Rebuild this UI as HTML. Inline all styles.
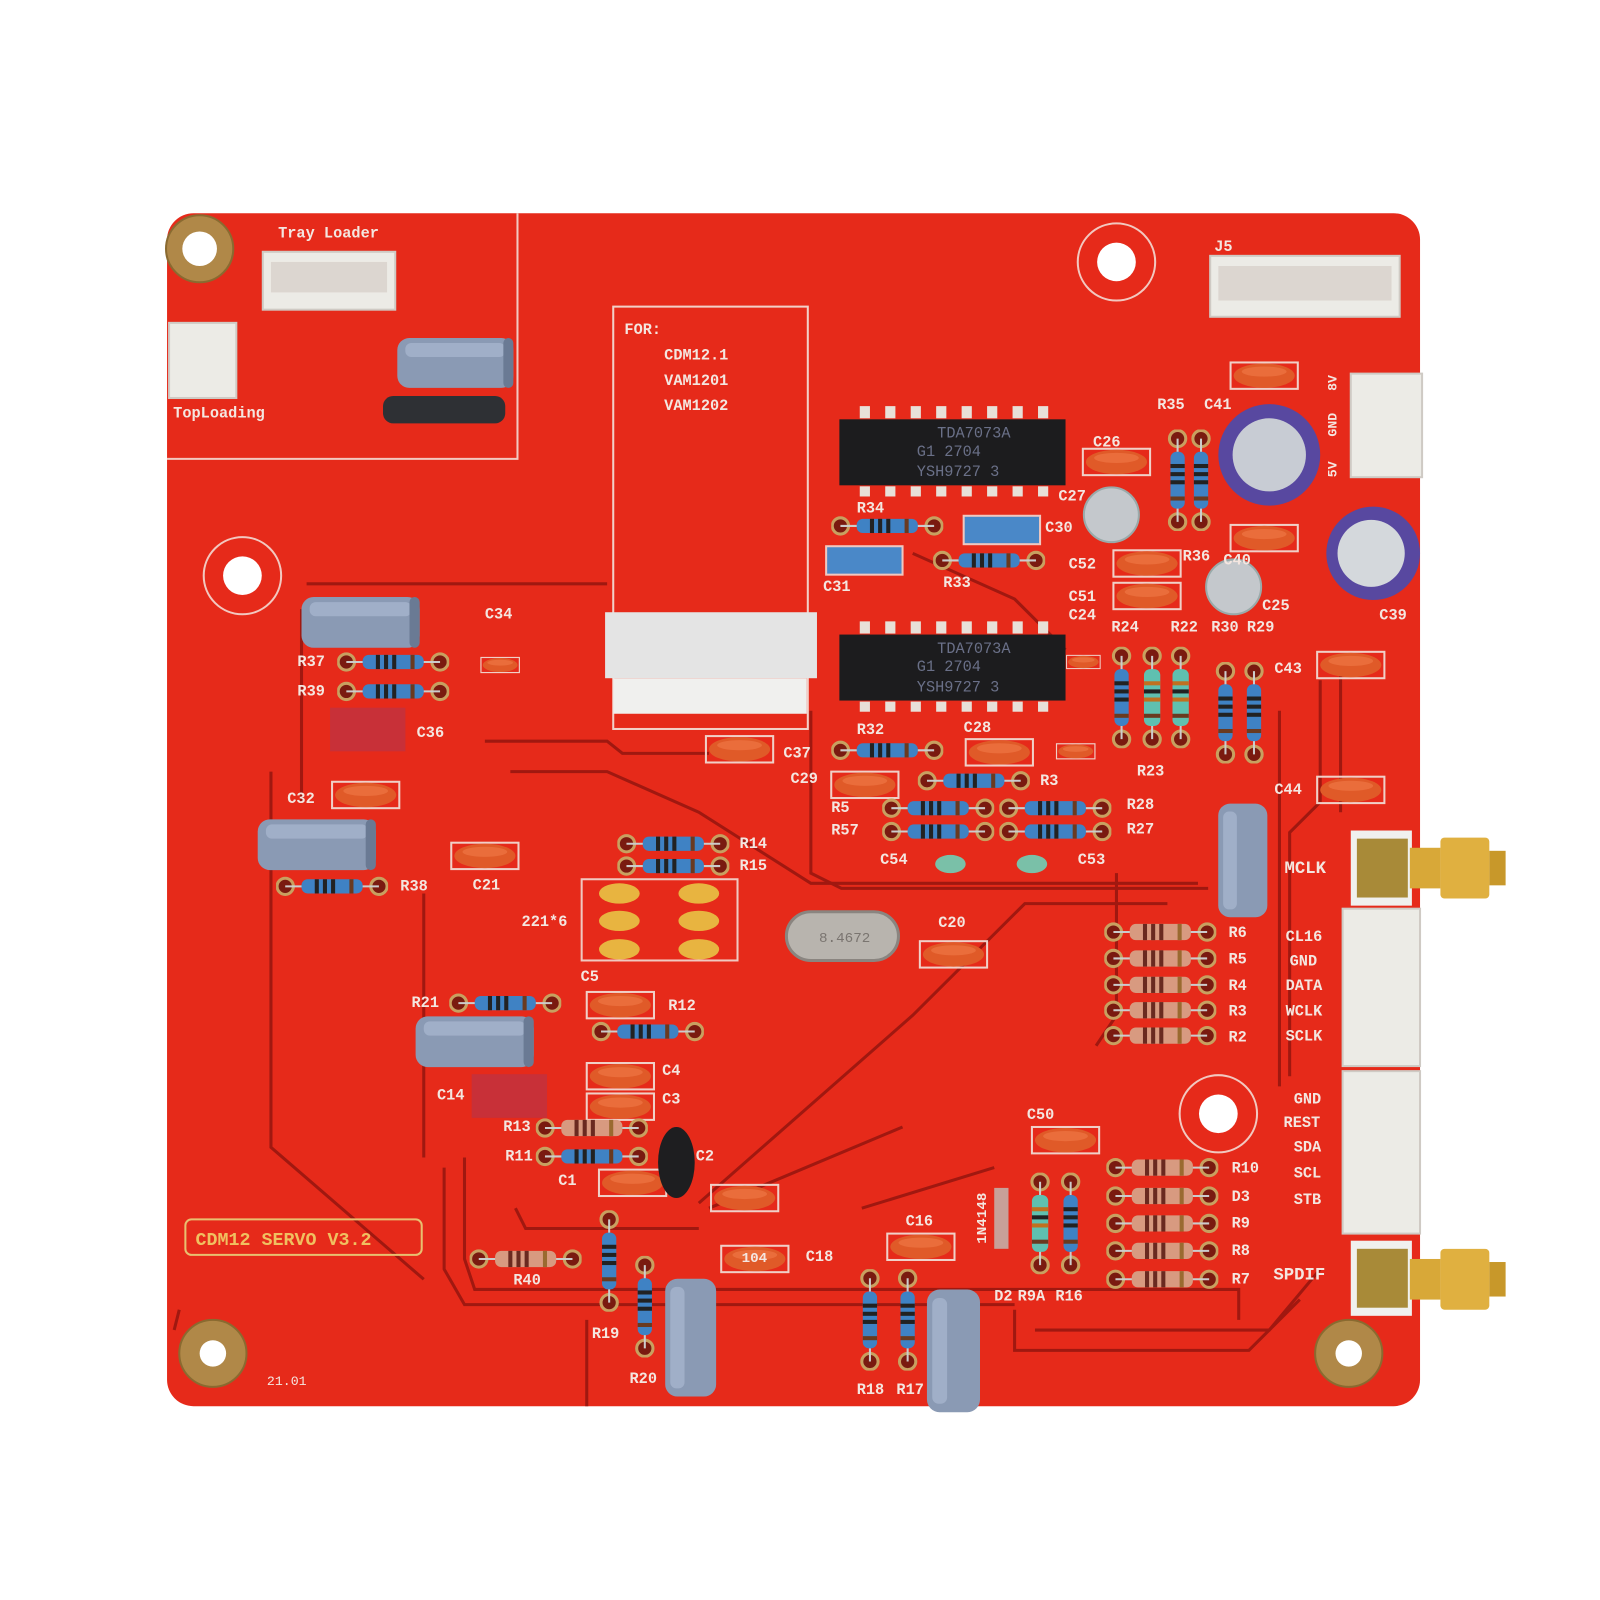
<!DOCTYPE html>
<html><head><meta charset="utf-8"><style>
html,body{margin:0;padding:0;background:#fff}
svg{display:block}
text{font-family:"Liberation Mono",monospace;fill:#f4e6e0;font-size:15px;font-weight:bold}
</style></head><body>
<svg width="1600" height="1600" viewBox="0 0 1600 1600" xmlns="http://www.w3.org/2000/svg">
<defs>
<symbol id="rb" viewBox="0 0 110 20" width="110" height="20">
<circle cx="9" cy="10" r="8" fill="#7a1a10" stroke="#c8a060" stroke-width="3"/>
<circle cx="101" cy="10" r="8" fill="#7a1a10" stroke="#c8a060" stroke-width="3"/>
<line x1="9" y1="10" x2="101" y2="10" stroke="#ccc" stroke-width="2"/>
<rect x="25" y="3" width="60" height="14" rx="6" fill="#3f82c4"/>
<rect x="38" y="3" width="4" height="14" fill="#222"/><rect x="46" y="3" width="4" height="14" fill="#222"/><rect x="54" y="3" width="4" height="14" fill="#222"/><rect x="72" y="3" width="4" height="14" fill="#6a3a20"/>
</symbol>
<symbol id="rt" viewBox="0 0 110 20" width="110" height="20">
<circle cx="9" cy="10" r="8" fill="#7a1a10" stroke="#c8a060" stroke-width="3"/>
<circle cx="101" cy="10" r="8" fill="#7a1a10" stroke="#c8a060" stroke-width="3"/>
<line x1="9" y1="10" x2="101" y2="10" stroke="#ccc" stroke-width="2"/>
<rect x="25" y="2" width="60" height="16" rx="6" fill="#d89a80"/>
<rect x="38" y="2" width="4" height="16" fill="#6a2a20"/><rect x="46" y="2" width="4" height="16" fill="#6a2a20"/><rect x="54" y="2" width="4" height="16" fill="#6a2a20"/><rect x="72" y="2" width="4" height="16" fill="#9a6a30"/>
</symbol>
<symbol id="rv" viewBox="0 0 20 100" width="20" height="100">
<circle cx="10" cy="9" r="8" fill="#7a1a10" stroke="#c8a060" stroke-width="3"/>
<circle cx="10" cy="91" r="8" fill="#7a1a10" stroke="#c8a060" stroke-width="3"/>
<line x1="10" y1="9" x2="10" y2="91" stroke="#ccc" stroke-width="2"/>
<rect x="3" y="22" width="14" height="56" rx="6" fill="#3f82c4"/>
<rect x="3" y="34" width="14" height="4" fill="#222"/><rect x="3" y="42" width="14" height="4" fill="#222"/><rect x="3" y="50" width="14" height="4" fill="#222"/><rect x="3" y="66" width="14" height="4" fill="#6a3a20"/>
</symbol>
<symbol id="rg" viewBox="0 0 20 100" width="20" height="100">
<circle cx="10" cy="9" r="8" fill="#7a1a10" stroke="#c8a060" stroke-width="3"/>
<circle cx="10" cy="91" r="8" fill="#7a1a10" stroke="#c8a060" stroke-width="3"/>
<line x1="10" y1="9" x2="10" y2="91" stroke="#ccc" stroke-width="2"/>
<rect x="2" y="22" width="16" height="56" rx="6" fill="#5fc0b0"/>
<rect x="2" y="34" width="16" height="4" fill="#c07020"/><rect x="2" y="42" width="16" height="4" fill="#222"/><rect x="2" y="50" width="16" height="4" fill="#c07020"/><rect x="2" y="66" width="16" height="4" fill="#6a3a20"/>
</symbol>
<symbol id="co" viewBox="0 0 70 30" width="70" height="30">
<rect x="2" y="2" width="66" height="26" fill="none" stroke="#f0d0c8" stroke-width="2"/>
<ellipse cx="35" cy="15" rx="30" ry="12" fill="#e05a28"/>
<ellipse cx="35" cy="11" rx="22" ry="5" fill="#f07a48" opacity=".6"/>
</symbol>
<symbol id="cyl" viewBox="0 0 120 56" width="120" height="56">
<rect x="2" y="3" width="116" height="50" rx="12" fill="#8a9ab4"/>
<rect x="10" y="8" width="100" height="14" rx="6" fill="#aab8d0" opacity=".7"/>
<rect x="108" y="3" width="10" height="50" rx="5" fill="#6a7a94"/>
</symbol>
<symbol id="cylv" viewBox="0 0 56 120" width="56" height="120">
<rect x="3" y="2" width="50" height="116" rx="12" fill="#8a9ab4"/>
<rect x="8" y="10" width="14" height="100" rx="6" fill="#aab8d0" opacity=".7"/>
</symbol>
</defs>

<rect width="1600" height="1600" fill="#fff"/>
<g transform="matrix(1.0187 0 0 1.0153 -4.1 0)">
<!-- board -->
<rect x="168" y="210" width="1230" height="1175" rx="26" fill="#e62a1a"/>
<!-- outlines -->
<path d="M168 452 H512 V210" fill="none" stroke="#f2c8c0" stroke-width="2"/>
<rect x="606" y="302" width="191" height="416" fill="none" stroke="#f2d0c8" stroke-width="2"/>
<!-- traces -->
<g fill="none" stroke="#a01810" stroke-width="3">
<path d="M305 575 H600"/><path d="M270 760 V1130 L420 1260"/><path d="M300 600 V790"/>
<path d="M480 730 H600 L615 742 H700"/><path d="M460 1140 V1240 L470 1270 H1220 V1300"/>
<path d="M440 1150 V1250 L460 1285 H1000"/><path d="M420 880 L420 1140"/>
<path d="M505 760 H600 L690 800 L800 870 H1180"/><path d="M800 700 V860 L830 875 H1190"/>
<path d="M690 1185 L900 1000 L1010 890 H1150"/><path d="M580 1300 V1385"/>
<path d="M1000 1290 V1330 H1230 L1280 1280"/><path d="M1020 1310 H1250 L1300 1250"/>
<path d="M1100 860 L1100 1000 L1080 1030"/><path d="M1260 700 V1070"/>
<path d="M1300 670 V790 L1270 820 V1060"/><path d="M1320 660 V800"/>
<path d="M900 545 L1000 590 L1050 640"/>
<path d="M175 1310 L180 1290"/><path d="M890 1110 L700 1190"/>
<path d="M980 1150 L850 1190"/><path d="M510 1190 L520 1210 H690"/>
</g>
<!-- holes -->
<circle cx="200" cy="245" r="33" fill="#b08848" stroke="#8a6a30" stroke-width="2"/><circle cx="200" cy="245" r="17" fill="#fff"/>
<circle cx="213" cy="1333" r="33" fill="#b08848" stroke="#8a6a30" stroke-width="2"/><circle cx="213" cy="1333" r="13" fill="#fff"/>
<circle cx="1328" cy="1333" r="33" fill="#b08848" stroke="#8a6a30" stroke-width="2"/><circle cx="1328" cy="1333" r="13" fill="#fff"/>
<circle cx="1100" cy="258" r="38" fill="none" stroke="#f2c8c0" stroke-width="2"/><circle cx="1100" cy="258" r="19" fill="#fff"/>
<circle cx="242" cy="567" r="38" fill="none" stroke="#f2c8c0" stroke-width="2"/><circle cx="242" cy="567" r="19" fill="#fff"/>
<circle cx="1200" cy="1097" r="38" fill="none" stroke="#f2c8c0" stroke-width="2"/><circle cx="1200" cy="1097" r="19" fill="#fff"/>
<!-- connectors -->
<g fill="#ecebe6" stroke="#cfcac4" stroke-width="2">
<rect x="262" y="248" width="130" height="57"/>
<rect x="170" y="318" width="66" height="74"/>
<rect x="1192" y="252" width="186" height="60"/>
<rect x="1330" y="368" width="70" height="102"/>
<rect x="1322" y="895" width="76" height="155"/>
<rect x="1322" y="1055" width="76" height="160"/>
</g>
<rect x="270" y="258" width="114" height="30" fill="#dcd6d0"/>
<rect x="1200" y="262" width="170" height="34" fill="#dcd6d0"/>
<!-- ribbon -->
<rect x="598" y="603" width="208" height="65" fill="#e4e4e4"/>
<rect x="606" y="668" width="190" height="35" fill="#f0f0ee"/>
<!-- ICs -->
<g>
<rect x="828" y="413" width="222" height="65" fill="#1c1c1e"/>
<rect x="828" y="625" width="222" height="65" fill="#1c1c1e"/>
<g fill="#e8e0d8">
<rect x="848" y="400" width="10" height="12"/><rect x="873" y="400" width="10" height="12"/><rect x="898" y="400" width="10" height="12"/><rect x="923" y="400" width="10" height="12"/><rect x="948" y="400" width="10" height="12"/><rect x="973" y="400" width="10" height="12"/><rect x="998" y="400" width="10" height="12"/><rect x="1023" y="400" width="10" height="12"/>
<rect x="848" y="479" width="10" height="10"/><rect x="873" y="479" width="10" height="10"/><rect x="898" y="479" width="10" height="10"/><rect x="923" y="479" width="10" height="10"/><rect x="948" y="479" width="10" height="10"/><rect x="973" y="479" width="10" height="10"/><rect x="998" y="479" width="10" height="10"/><rect x="1023" y="479" width="10" height="10"/>
<rect x="848" y="612" width="10" height="12"/><rect x="873" y="612" width="10" height="12"/><rect x="898" y="612" width="10" height="12"/><rect x="923" y="612" width="10" height="12"/><rect x="948" y="612" width="10" height="12"/><rect x="973" y="612" width="10" height="12"/><rect x="998" y="612" width="10" height="12"/><rect x="1023" y="612" width="10" height="12"/>
<rect x="848" y="691" width="10" height="10"/><rect x="873" y="691" width="10" height="10"/><rect x="898" y="691" width="10" height="10"/><rect x="923" y="691" width="10" height="10"/><rect x="948" y="691" width="10" height="10"/><rect x="973" y="691" width="10" height="10"/><rect x="998" y="691" width="10" height="10"/><rect x="1023" y="691" width="10" height="10"/>
</g>
<text x="924" y="431" style="fill:#6a7088;font-weight:normal">TDA7073A</text><text x="904" y="449" style="fill:#6a7088;font-weight:normal">G1   2704</text><text x="904" y="469" style="fill:#6a7088;font-weight:normal">YSH9727 3</text>
<text x="924" y="643" style="fill:#6a7088;font-weight:normal">TDA7073A</text><text x="904" y="661" style="fill:#6a7088;font-weight:normal">G1   2704</text><text x="904" y="681" style="fill:#6a7088;font-weight:normal">YSH9727 3</text>
</g>
<!-- cylinders -->
<use href="#cyl" x="392" y="330" width="118" height="55"/>
<rect x="380" y="390" width="120" height="27" rx="10" fill="#2e3034"/>
<use href="#cyl" x="298" y="585" width="120" height="56"/>
<use href="#cyl" x="255" y="804" width="120" height="56"/>
<use href="#cyl" x="410" y="998" width="120" height="56"/>
<use href="#cylv" x="1197" y="785" width="54" height="125"/>
<use href="#cylv" x="654" y="1255" width="56" height="125"/>
<use href="#cylv" x="910" y="1268" width="60" height="125"/>
<!-- electrolytics -->
<circle cx="1250" cy="448" r="50" fill="#5848a0"/><circle cx="1250" cy="448" r="36" fill="#c8ccd4"/>
<circle cx="1352" cy="545" r="46" fill="#5848a0"/><circle cx="1350" cy="545" r="33" fill="#d4d8dc"/>
<circle cx="1095" cy="507" r="27" fill="#c4c8cc" stroke="#9aa" stroke-width="2"/>
<circle cx="1215" cy="578" r="27" fill="#c4c8cc" stroke="#9aa" stroke-width="2"/>
<!-- blue box caps -->
<rect x="815" y="538" width="75" height="28" fill="#4a88c8" stroke="#f0c8c0" stroke-width="2"/>
<rect x="950" y="508" width="75" height="28" fill="#4a88c8" stroke="#f0c8c0" stroke-width="2"/>
<!-- red box caps -->
<rect x="328" y="697" width="74" height="43" fill="#c83038"/>
<rect x="467" y="1058" width="74" height="43" fill="#c83038"/>
<!-- crystal -->
<rect x="776" y="898" width="110" height="48" rx="24" fill="#b8b4ae" stroke="#8a8580" stroke-width="3"/>
<text x="808" y="928" style="fill:#7a7570;font-size:14px;font-weight:normal">8.4672</text>
<!-- yellow ceramics -->
<rect x="575" y="866" width="153" height="80" fill="none" stroke="#f0c8c0" stroke-width="2"/>
<g fill="#e8b440">
<ellipse cx="612" cy="880" rx="20" ry="10"/><ellipse cx="612" cy="907" rx="20" ry="10"/><ellipse cx="612" cy="935" rx="20" ry="10"/>
<ellipse cx="690" cy="880" rx="20" ry="10"/><ellipse cx="690" cy="907" rx="20" ry="10"/><ellipse cx="690" cy="935" rx="20" ry="10"/>
</g>
<!-- orange caps -->
<use href="#co" x="1210" y="355"/><use href="#co" x="1065" y="440"/><use href="#co" x="1210" y="515"/>
<use href="#co" x="1095" y="540"/><use href="#co" x="1095" y="572"/><use href="#co" x="1295" y="640"/>
<use href="#co" x="1295" y="763"/><use href="#co" x="475" y="620" width="40" height="70"/>
<use href="#co" x="1050" y="617" width="35" height="70"/>
<use href="#co" x="328" y="768"/><use href="#co" x="445" y="828"/><use href="#co" x="695" y="723"/>
<use href="#co" x="950" y="726"/><use href="#co" x="818" y="758"/><use href="#co" x="1040" y="710" width="40" height="60"/>
<use href="#co" x="905" y="925"/><use href="#co" x="578" y="975"/><use href="#co" x="578" y="1045"/>
<use href="#co" x="578" y="1075"/><use href="#co" x="590" y="1150"/><use href="#co" x="700" y="1165"/>
<use href="#co" x="873" y="1213"/><use href="#co" x="1015" y="1108"/><use href="#co" x="710" y="1225"/>
<ellipse cx="668" cy="1145" rx="18" ry="35" fill="#1e1e20"/>
<!-- green small -->
<ellipse cx="937" cy="851" rx="15" ry="9" fill="#7ac0a8"/><ellipse cx="1017" cy="851" rx="15" ry="9" fill="#7ac0a8"/>
<!-- resistors -->
<use href="#rb" x="820" y="508"/><use href="#rb" x="920" y="542"/><use href="#rb" x="335" y="642"/><use href="#rb" x="335" y="671"/>
<use href="#rb" x="275" y="863"/><use href="#rb" x="610" y="821"/><use href="#rb" x="610" y="843"/><use href="#rb" x="445" y="978"/>
<use href="#rb" x="585" y="1006"/><use href="#rb" x="820" y="729"/><use href="#rb" x="905" y="759"/><use href="#rb" x="870" y="786"/>
<use href="#rb" x="870" y="809"/><use href="#rb" x="985" y="786"/><use href="#rb" x="985" y="809"/><use href="#rb" x="530" y="1129"/>
<use href="#rt" x="1088" y="908"/><use href="#rt" x="1088" y="934"/><use href="#rt" x="1088" y="960"/><use href="#rt" x="1088" y="985"/><use href="#rt" x="1088" y="1010"/>
<use href="#rt" x="1090" y="1140"/><use href="#rt" x="1090" y="1168"/><use href="#rt" x="1090" y="1195"/><use href="#rt" x="1090" y="1222"/><use href="#rt" x="1090" y="1250"/>
<use href="#rt" x="465" y="1230"/><use href="#rt" x="530" y="1101"/>
<use href="#rv" x="1150" y="423"/><use href="#rv" x="1173" y="423"/><use href="#rv" x="1095" y="637"/>
<use href="#rg" x="1125" y="637"/><use href="#rg" x="1153" y="637"/><use href="#rv" x="1197" y="652"/><use href="#rv" x="1225" y="652"/>
<use href="#rv" x="592" y="1192"/><use href="#rv" x="627" y="1237"/><use href="#rv" x="848" y="1250"/><use href="#rv" x="885" y="1250"/>
<use href="#rg" x="1015" y="1155"/><use href="#rv" x="1045" y="1155"/>
<rect x="980" y="1170" width="14" height="60" fill="#c8a098"/>
<!-- SMA -->
<g>
<rect x="1330" y="818" width="60" height="74" fill="#f0f0ee"/>
<rect x="1336" y="826" width="50" height="58" fill="#a88a38"/>
<rect x="1388" y="835" width="30" height="40" fill="#d8a838"/>
<rect x="1418" y="825" width="48" height="60" rx="4" fill="#e0b040"/>
<rect x="1466" y="838" width="16" height="34" fill="#c8982a"/>
<rect x="1330" y="1222" width="60" height="74" fill="#f0f0ee"/>
<rect x="1336" y="1230" width="50" height="58" fill="#a88a38"/>
<rect x="1388" y="1240" width="30" height="40" fill="#d8a838"/>
<rect x="1418" y="1230" width="48" height="60" rx="4" fill="#e0b040"/>
<rect x="1466" y="1243" width="16" height="34" fill="#c8982a"/>
</g>
<!-- CDM label -->
<rect x="186" y="1201" width="232" height="35" rx="6" fill="none" stroke="#e8c070" stroke-width="2"/>
<text x="196" y="1226" style="fill:#f0c060;font-size:18px">CDM12 SERVO V3.2</text>
<!-- labels -->
<text x="277" y="234">Tray Loader</text><text x="174" y="411">TopLoading</text>
<text x="617" y="329">FOR:</text><text x="656" y="354">CDM12.1</text><text x="656" y="379">VAM1201</text><text x="656" y="404">VAM1202</text>
<text x="1196" y="247">J5</text><text x="1140" y="403">R35</text><text x="1186" y="403">C41</text>
<text x="1077" y="440">C26</text><text x="1043" y="493">C27</text><text x="845" y="505">R34</text><text x="1030" y="524">C30</text>
<text x="812" y="582">C31</text><text x="930" y="578">R33</text><text x="1053" y="560">C52</text><text x="1053" y="592">C51</text>
<text x="1053" y="610">C24</text><text x="1165" y="552">R36</text><text x="1205" y="556">C40</text><text x="1243" y="601">C25</text>
<text x="1358" y="610">C39</text><text x="1095" y="622">R24</text><text x="1153" y="622">R22</text><text x="1193" y="622">R30</text><text x="1228" y="622">R29</text>
<text x="1255" y="663">C43</text><text x="1255" y="782">C44</text><text x="1120" y="764">R23</text>
<text x="480" y="609">C34</text><text x="296" y="656">R37</text><text x="296" y="685">R39</text><text x="413" y="726">C36</text>
<text x="845" y="723">R32</text><text x="950" y="721">C28</text><text x="773" y="746">C37</text><text x="780" y="771">C29</text>
<text x="1025" y="773">R3</text><text x="820" y="800">R5</text><text x="820" y="822">R57</text><text x="1110" y="797">R28</text><text x="1110" y="821">R27</text>
<text x="868" y="851">C54</text><text x="1062" y="851">C53</text>
<text x="286" y="791">C32</text><text x="397" y="877">R38</text><text x="468" y="876">C21</text>
<text x="730" y="835">R14</text><text x="730" y="857">R15</text><text x="516" y="912">221*6</text>
<text x="925" y="913">C20</text><text x="574" y="966">C5</text><text x="660" y="995">R12</text><text x="408" y="992">R21</text>
<text x="654" y="1059">C4</text><text x="433" y="1083">C14</text><text x="654" y="1087">C3</text>
<text x="498" y="1114">R13</text><text x="500" y="1143">R11</text><text x="552" y="1167">C1</text><text x="687" y="1143">C2</text>
<text x="795" y="1242">C18</text><text x="732" y="1243" style="font-size:14px">104</text>
<text x="508" y="1265">R40</text><text x="585" y="1318">R19</text><text x="622" y="1362">R20</text>
<text x="845" y="1373">R18</text><text x="884" y="1373">R17</text><text x="893" y="1207">C16</text><text x="1012" y="1102">C50</text>
<text x="980" y="1281">D2</text><text x="1003" y="1281">R9A</text><text x="1040" y="1281">R16</text>
<text x="1213" y="1155">R10</text><text x="1213" y="1183">D3</text><text x="1213" y="1209">R9</text><text x="1213" y="1236">R8</text><text x="1213" y="1264">R7</text>
<text x="1210" y="923">R6</text><text x="1210" y="949">R5</text><text x="1210" y="975">R4</text><text x="1210" y="1000">R3</text><text x="1210" y="1026">R2</text>
<text x="1266" y="927">CL16</text><text x="1270" y="951">GND</text><text x="1266" y="975">DATA</text><text x="1266" y="1000">WCLK</text><text x="1266" y="1025">SCLK</text>
<text x="1274" y="1087">GND</text><text x="1264" y="1110">REST</text><text x="1274" y="1134">SDA</text><text x="1274" y="1160">SCL</text><text x="1274" y="1186">STB</text>
<text x="1265" y="860" style="font-size:17px">MCLK</text><text x="1254" y="1260" style="font-size:17px">SPDIF</text>
<text x="266" y="1364" style="font-weight:normal;font-size:13px">21.01</text>
<text transform="translate(972,1225) rotate(-90)" style="font-size:14px">1N4148</text>
<text transform="translate(1316,430) rotate(-90)" style="font-size:13px">GND</text>
<text transform="translate(1316,385) rotate(-90)" style="font-size:13px">8V</text>
<text transform="translate(1316,470) rotate(-90)" style="font-size:13px">5V</text>
</g>
</svg>
</body></html>
